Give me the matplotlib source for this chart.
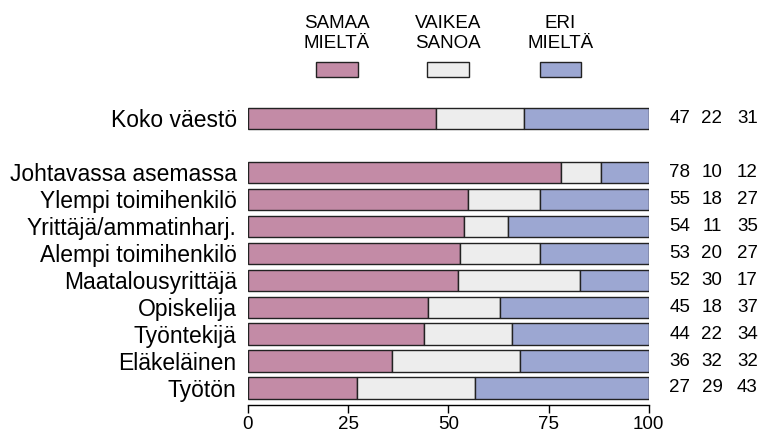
import matplotlib.pyplot as plt
import matplotlib.transforms as mtransforms
from matplotlib.patches import Rectangle
import numpy as np

plt.rcParams['font.family'] = ['Liberation Sans', 'DejaVu Sans']

groups = ['Koko väestö', 'Johtavassa asemassa', 'Ylempi toimihenkilö',
          'Yrittäjä/ammatinharj.', 'Alempi toimihenkilö', 'Maatalousyrittäjä',
          'Opiskelija', 'Työntekijä', 'Eläkeläinen', 'Työtön']
samaa = [47, 78, 55, 54, 53, 52, 45, 44, 36, 27]
vaikea = [22, 10, 18, 11, 20, 30, 18, 22, 32, 29]
eri = [31, 12, 27, 35, 27, 17, 37, 34, 32, 43]
legend_labels = ['SAMAA\nMIELTÄ', 'VAIKEA\nSANOA', 'ERI\nMIELTÄ']
colors = ['#c38ba6', '#ededed', '#9ca7d2']

# first row stands apart from the rest
ypos = [0] + list(range(2, 11))

fig = plt.figure(figsize=(7.65, 4.33), dpi=100)
ax = fig.add_axes([0.324, 0.0647, 0.524, 0.704])

vals = np.array([samaa, vaikea, eri], dtype=float)
shares = vals / vals.sum(axis=0) * 100
left = np.zeros(len(groups))
for k in range(3):
    ax.barh(ypos, shares[k], left=left, height=0.78, color=colors[k],
            edgecolor='#222222', linewidth=1.0)
    left += shares[k]

ax.set_xlim(0, 100)
ax.set_ylim(10.63, -0.667)
ax.set_yticks(ypos)
ax.set_yticklabels(groups, fontsize=16.5)
ax.tick_params(axis='y', length=0, pad=8)
ax.set_xticks([0, 25, 50, 75, 100])
ax.tick_params(axis='x', labelsize=13.5, length=6, width=1, pad=2)
ax.spines[['left', 'right', 'top']].set_visible(False)
ax.spines['bottom'].set_linewidth(1)

# numbers to the right
for y, a, b, c in zip(ypos, samaa, vaikea, eri):
    for x, v in zip([110.3, 118.4, 127.2], [a, b, c]):
        ax.text(x, y, str(v), ha='right', va='center', fontsize=13.5,
                clip_on=False)

# legend on top
trans = mtransforms.blended_transform_factory(ax.transData, fig.transFigure)
for xc, lab, col in zip([22.2, 50.0, 78.0], legend_labels, colors):
    fig.patches.append(Rectangle((xc - 5.2, 1 - 77 / 433), 10.4, 15 / 433,
                                 transform=trans, facecolor=col,
                                 edgecolor='#222222', linewidth=1.0))
    ax.text(xc, 1 - 52 / 433, lab, transform=trans, ha='center',
            va='bottom', fontsize=13.5, linespacing=1.2,
            multialignment='center')

plt.savefig('out.png', dpi=100)
